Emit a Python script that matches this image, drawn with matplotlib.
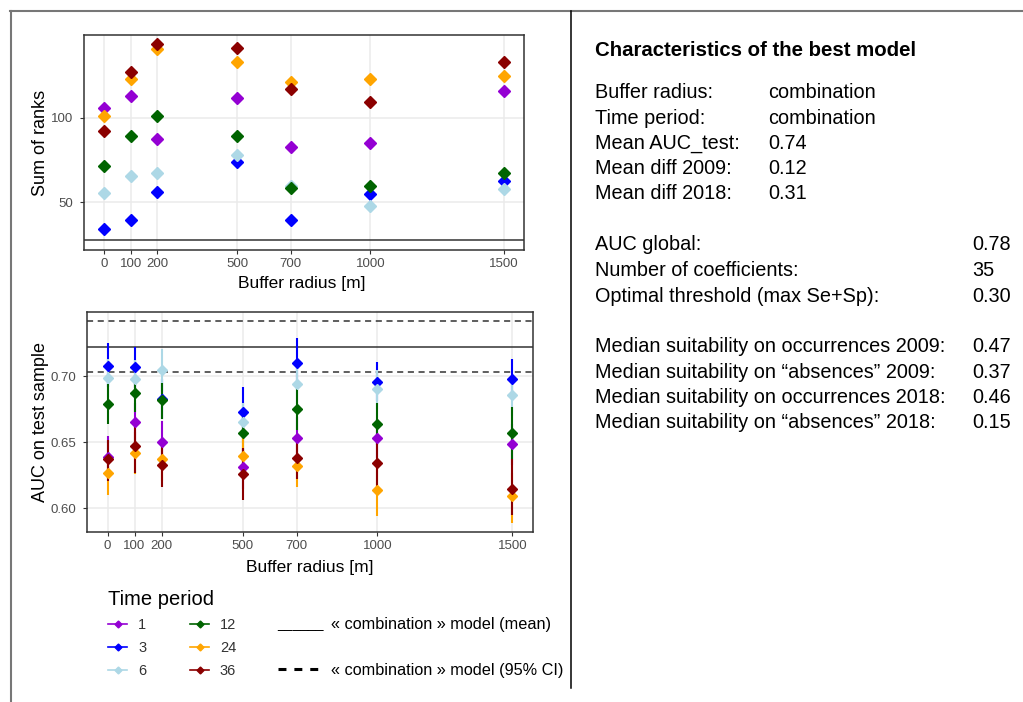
import numpy as np
import matplotlib
matplotlib.use("Agg")
import matplotlib.pyplot as plt
from matplotlib.lines import Line2D

plt.rcParams['font.family'] = ['Liberation Sans', 'DejaVu Sans']

# buffer radii and time periods
buffers = [0, 100, 200, 500, 700, 1000, 1500]
periods = ['1', '3', '6', '12', '24', '36']
colors = ['darkviolet', 'blue', 'lightblue', 'darkgreen', 'orange', 'darkred']

# sum of ranks per time period
rank_1 = [105.6, 112.6, 87.6, 111.8, 82.9, 85.2, 116.0]
rank_3 = [34.2, 39.7, 56.1, 73.6, 39.7, 55.1, 62.6]
rank_6 = [55.3, 65.7, 67.3, 78.0, 59.5, 48.0, 57.7]
rank_12 = [71.5, 89.2, 101.2, 89.2, 58.6, 59.6, 67.5]
rank_24 = [101.0, 123.1, 140.8, 132.9, 121.1, 123.1, 124.8]
rank_36 = [92.3, 127.2, 143.6, 141.0, 116.8, 109.5, 132.9]
combo_rank = 27.7

# AUC on test sample, mean and 95% CI
auc_1 = [0.639, 0.665, 0.650, 0.631, 0.653, 0.653, 0.649]
auc_3 = [0.708, 0.707, 0.683, 0.673, 0.710, 0.696, 0.698]
auc_6 = [0.699, 0.698, 0.705, 0.665, 0.694, 0.690, 0.686]
auc_12 = [0.679, 0.687, 0.682, 0.657, 0.675, 0.664, 0.657]
auc_24 = [0.627, 0.642, 0.637, 0.640, 0.632, 0.614, 0.609]
auc_36 = [0.637, 0.647, 0.633, 0.626, 0.638, 0.634, 0.615]

lo_1 = [0.623, 0.650, 0.634, 0.615, 0.637, 0.638, 0.633]
hi_1 = [0.655, 0.680, 0.666, 0.645, 0.669, 0.668, 0.664]
lo_3 = [0.692, 0.691, 0.668, 0.654, 0.691, 0.681, 0.682]
hi_3 = [0.725, 0.722, 0.698, 0.692, 0.729, 0.711, 0.713]
lo_6 = [0.684, 0.683, 0.689, 0.650, 0.679, 0.675, 0.670]
hi_6 = [0.713, 0.712, 0.721, 0.680, 0.709, 0.705, 0.701]
lo_12 = [0.664, 0.673, 0.668, 0.642, 0.659, 0.648, 0.637]
hi_12 = [0.694, 0.701, 0.695, 0.672, 0.691, 0.680, 0.677]
lo_24 = [0.610, 0.626, 0.621, 0.623, 0.616, 0.594, 0.589]
hi_24 = [0.643, 0.658, 0.653, 0.656, 0.648, 0.632, 0.627]
lo_36 = [0.621, 0.627, 0.616, 0.606, 0.622, 0.614, 0.595]
hi_36 = [0.652, 0.664, 0.650, 0.646, 0.654, 0.653, 0.637]

combo_auc = 0.722
combo_auc_lo = 0.7035
combo_auc_hi = 0.742

ranks = [rank_1, rank_3, rank_6, rank_12, rank_24, rank_36]
aucs = [auc_1, auc_3, auc_6, auc_12, auc_24, auc_36]
los = [lo_1, lo_3, lo_6, lo_12, lo_24, lo_36]
his = [hi_1, hi_3, hi_6, hi_12, hi_24, hi_36]

# text panel
info_1 = [("Buffer radius:", "combination"), ("Time period:", "combination"),
          ("Mean AUC_test:", "0.74"), ("Mean diff 2009:", "0.12"),
          ("Mean diff 2018:", "0.31")]
info_2 = [("AUC global:", "0.78"), ("Number of coefficients:", "35"),
          ("Optimal threshold (max Se+Sp):", "0.30")]
info_3 = [("Median suitability on occurrences 2009:", "0.47"),
          ("Median suitability on \u201cabsences\u201d 2009:", "0.37"),
          ("Median suitability on occurrences 2018:", "0.46"),
          ("Median suitability on \u201cabsences\u201d 2018:", "0.15")]

W, H = 1023, 702
fig = plt.figure(figsize=(W / 100, H / 100), dpi=100)


def fx(px):
    return px / W


def fy(py):
    return 1 - py / H


def style_axes(ax):
    for s in ax.spines.values():
        s.set_color('#333333')
        s.set_linewidth(1.1)
    ax.grid(True, color='#EBEBEB', linewidth=1.1)
    ax.set_axisbelow(True)
    ax.tick_params(colors='#333333', labelcolor='#4D4D4D', labelsize=9.5,
                   length=3, width=0.8, pad=3)
    ax.tick_params(axis='y', pad=5)
    ax.set_xticks(buffers)
    ax.set_xlim(-75, 1575)


# top panel: sum of ranks
ax1 = fig.add_axes([fx(84), fy(250), fx(439.7), 215 / H])
style_axes(ax1)
for r, c in zip(ranks, colors):
    ax1.plot(buffers, r, 'D', color=c, ms=6, zorder=3)
ax1.axhline(combo_rank, color='#333333', lw=1.1)
ax1.set_ylim(21.8, 148.9)
ax1.set_yticks([50, 100])
ax1.set_ylabel("Sum of ranks", fontsize=13)
ax1.yaxis.set_label_coords(-0.08, 0.5)
ax1.set_xlabel("Buffer radius [m]", fontsize=12.5)
ax1.xaxis.set_label_coords(0.496, -0.121)

# bottom panel: AUC on test sample
ax2 = fig.add_axes([fx(87.3), fy(531.7), fx(445.4), 220 / H])
style_axes(ax2)
handles = []
for a, lo, hi, c, p in zip(aucs, los, his, colors, periods):
    a = np.array(a)
    err = [a - np.array(lo), np.array(hi) - a]
    ax2.errorbar(buffers, a, yerr=err, fmt='D', color=c, ms=5.3, elinewidth=1.5,
                 capsize=0, zorder=3)
    handles.append(Line2D([], [], color=c, marker='D', ms=3.5, lw=1.2, label=p))
ax2.axhline(combo_auc, color='#333333', lw=1.1)
ax2.axhline(combo_auc_lo, color='#333333', lw=1.1, ls=(0, (4, 3)))
ax2.axhline(combo_auc_hi, color='#333333', lw=1.1, ls=(0, (4, 3)))
ax2.set_ylim(0.5823, 0.7489)
ax2.set_yticks([0.60, 0.65, 0.70])
ax2.set_yticklabels(['0.60', '0.65', '0.70'])
ax2.set_ylabel("AUC on test sample", fontsize=13)
ax2.yaxis.set_label_coords(-0.086, 0.5)
ax2.set_xlabel("Buffer radius [m]", fontsize=12.5)
ax2.xaxis.set_label_coords(0.5, -0.129)

# legend for time periods
leg = fig.legend(handles=handles, ncol=2, loc='upper left',
                 bbox_to_anchor=(fx(101), fy(583)), frameon=False,
                 title="Time period", title_fontsize=14.5, fontsize=10.5,
                 handlelength=1.3, handletextpad=0.75, columnspacing=3.0,
                 labelspacing=0.62, borderpad=0, alignment='left')
for t in leg.get_texts():
    t.set_color('#333333')

# combination model legend
fig.text(fx(277), fy(624), "______", fontsize=10, va='center', ha='left')
fig.text(fx(331), fy(624), "\u00ab combination \u00bb model (mean)", fontsize=11.7,
         va='center', ha='left')
fig.add_artist(Line2D([fx(278), fx(318)], [fy(669), fy(669)], color='black',
                      lw=2.2, ls=(0, (2.6, 2.6))))
fig.text(fx(331), fy(671), "\u00ab combination \u00bb model (95% CI)", fontsize=11.7,
         va='center', ha='left')

# table borders
fig.add_artist(Line2D([fx(10), 1], [fy(11), fy(11)], color='#777777', lw=1.5))
fig.add_artist(Line2D([fx(11), fx(11)], [fy(11), 0], color='#777777', lw=1.5))
fig.add_artist(Line2D([fx(571), fx(571)], [fy(11), fy(688)], color='black', lw=1.1))

# right-hand text panel
fig.text(fx(595), fy(50), "Characteristics of the best model", fontsize=14.7,
         fontweight='bold', va='center', ha='left')
y0 = 93
for label, val in info_1:
    fig.text(fx(595), fy(y0), label, fontsize=14.3, va='center', ha='left')
    fig.text(fx(768), fy(y0), val, fontsize=14.3, va='center', ha='left')
    y0 += 25.2
y0 = 245
for label, val in info_2:
    fig.text(fx(595), fy(y0), label, fontsize=14.3, va='center', ha='left')
    fig.text(fx(972), fy(y0), val, fontsize=14.3, va='center', ha='left')
    y0 += 25.5
y0 = 347
for label, val in info_3:
    fig.text(fx(595), fy(y0), label, fontsize=14.3, va='center', ha='left')
    fig.text(fx(972), fy(y0), val, fontsize=14.3, va='center', ha='left')
    y0 += 25.3

fig.savefig("out.png", dpi=100)
